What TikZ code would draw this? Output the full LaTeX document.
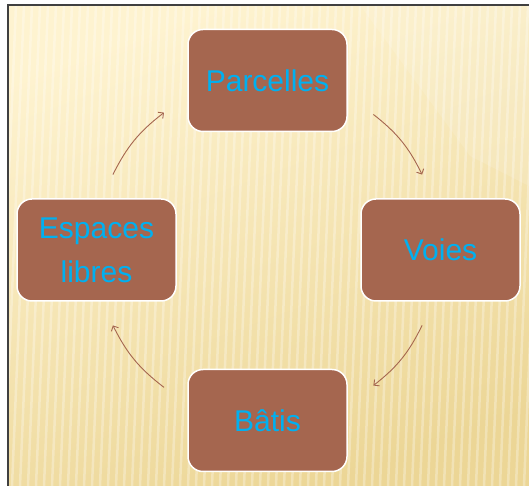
\documentclass[tikz,border=0pt]{standalone}
\usepackage{fontspec}
\setmainfont{Liberation Sans}
\usetikzlibrary{arrows.meta}
\definecolor{braun}{RGB}{165,102,79}
\definecolor{textblau}{RGB}{0,176,240}
\definecolor{hellgelb}{RGB}{254,243,208}
\definecolor{dunkelgelb}{RGB}{236,214,150}
\begin{document}
\begin{tikzpicture}[x=1pt,y=1pt,
		kasten/.style={draw=white, line width=1.5pt, fill=braun, rounded corners=15pt,
			minimum width=159pt, minimum height=102pt, inner sep=0pt,
			text=textblau, align=center, font=\fontsize{30}{44}\selectfont},
		pfeil/.style={draw=braun, line width=0.9pt, -{Straight Barb[length=4pt,width=8pt]}}]
		\useasboundingbox (0,0) rectangle (529,486);
		%Hintergrund
		\fill[white] (0,0) rectangle (529,486);
		\begin{scope}
			\clip (8,0) rectangle (529,481);
			\shade[shading=axis, top color=hellgelb, bottom color=dunkelgelb, shading angle=20] (8,0) rectangle (529,481);
			\fill[white, opacity=0.12] (360,481) -- (529,481) -- (529,300) -- (470,330) -- cycle;
			\foreach \x in {0,8,...,560}
				\draw[white, opacity=0.3, line width=2.5pt] (\x-20,0) -- (\x,481);
		\end{scope}
		\draw[black!75, line width=1.5pt] (8,0) -- (8,481) -- (529,481);
		%Kaesten
		\coordinate (mitte) at (267.5,236);
		\node[kasten] (parcelles) at (267.5,405.5) {Parcelles};
		\node[kasten] (voies) at (440.5,236) {Voies};
		\node[kasten] (batis) at (267.5,65.5) {Bâtis};
		\node[kasten] (espaces) at (96.5,236) {Espaces\\libres};
		%Pfeile
		\foreach \a/\b [count=\i] in {52/26,-26/-52,233/206,154/127} {
			\coordinate (s\i) at ([shift={(\a:172)}]mitte);
			\coordinate (e\i) at ([shift={(\b:172)}]mitte);
			\draw[pfeil] (s\i) to[bend left=13] (e\i);
		}
	\end{tikzpicture}
\end{document}
